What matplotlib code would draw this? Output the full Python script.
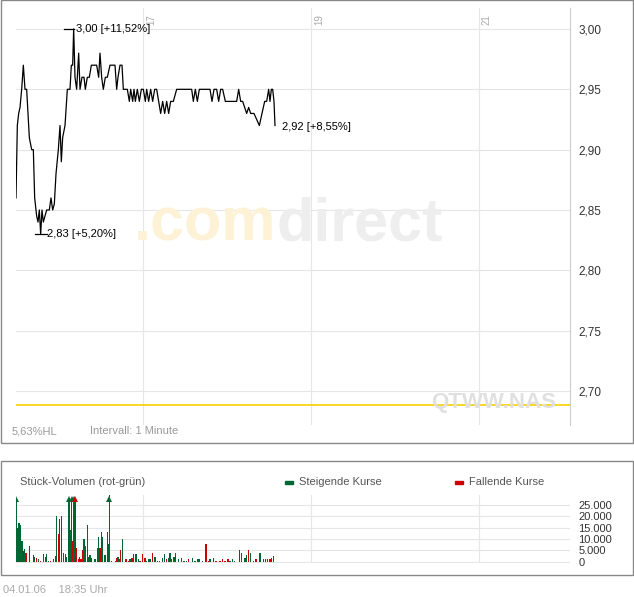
import matplotlib
matplotlib.use("Agg")
import matplotlib.pyplot as plt
from matplotlib.patches import Rectangle

plt.rcParams['font.family'] = ['Liberation Sans', 'DejaVu Sans']

# price series: time (minutes from start), price
price_zx = [48,50,52,56,60,65,70,75,80,88,95,100,104,110,114,118,122,126,130,135,140,148,153,158,163,168,175,180,184,188,195,202,210,214,218,221,225,230,236,240,246,252,256,262,268,274,290,296,300,305,310,316,322,330,345,350,354,360,366,370,382,388,392,398,402,406,412,418,424,430,436,440,446,452,458,464,470,476,482,488,494,500,506,512,520,530,575,580,586,592,598,630,636,642,650,656,662,668,676,710,716,722,728,734,740,746,752,762,770,778,786,794,800,806,810,814,818,822,825]
prices = [2.86,2.89,2.92,2.93,2.935,2.95,2.97,2.95,2.95,2.91,2.90,2.90,2.86,2.845,2.84,2.85,2.83,2.85,2.84,2.845,2.85,2.85,2.86,2.85,2.855,2.88,2.90,2.92,2.89,2.91,2.92,2.95,2.95,2.97,2.97,3.00,2.96,2.95,2.98,2.95,2.96,2.96,2.95,2.96,2.96,2.97,2.97,2.96,2.98,2.96,2.95,2.96,2.96,2.97,2.97,2.95,2.96,2.97,2.97,2.95,2.95,2.94,2.95,2.94,2.95,2.94,2.95,2.94,2.95,2.95,2.94,2.95,2.94,2.95,2.94,2.95,2.95,2.94,2.93,2.94,2.93,2.94,2.93,2.94,2.94,2.95,2.95,2.94,2.95,2.94,2.95,2.95,2.94,2.95,2.95,2.94,2.95,2.95,2.94,2.94,2.95,2.94,2.94,2.935,2.93,2.935,2.93,2.93,2.925,2.92,2.93,2.94,2.94,2.95,2.94,2.95,2.95,2.94,2.92]
price_t = [z/6 - 8 for z in price_zx]

vol_zx = [48,51,57,60,66,70,74,78,88,100,104,110,116,122,130,136,140,146,152,160,166,170,175,179,184,190,196,200,205,207,212,215,218,222,226,230,235,238,243,248,252,256,262,266,270,275,285,292,295,300,304,308,315,322,326,328,335,346,350,354,358,362,368,378,385,390,396,400,408,415,420,428,435,440,446,450,458,465,472,478,488,494,500,505,510,515,522,527,535,545,552,560,566,578,585,592,597,608,618,625,630,640,648,660,668,675,684,690,697,704,718,725,735,740,745,752,760,768,780,790,796,803,810,815,820]
volumes = [28000,15000,17000,16000,9000,4500,5500,4000,7000,3000,2000,1500,1000,500,3500,2000,3500,500,500,1000,2500,20000,12000,19000,20000,4000,3500,2000,20000,28000,14000,28000,9000,28000,28000,6000,1000,2000,1000,5000,10000,7000,16000,2000,3000,1500,1000,6000,11000,6000,13000,11000,3000,13000,8000,30000,500,500,1500,2000,1000,5000,10000,1000,500,1000,1500,3500,3500,1000,500,3500,1500,500,1000,1000,4000,2000,500,500,1500,3500,1000,1500,4000,1000,2000,4000,1000,1500,500,500,1000,1500,500,1000,1000,500,8000,500,1000,1500,500,500,1000,500,1000,500,1000,500,5000,4000,1500,3000,5000,4000,500,1000,4000,1000,1000,1000,1000,1500,2500]
vol_col = list("gggggrgrrrgrgrggggrgggrrrgggrgggrgrrrgrrgggggrgrgrrgggggrrrgrrgrrgrrggrrrgggrggrggrggrgrggggrgggggrrggrrrrrgggrgggrgrrggrgrgr")
vol_col = (vol_col + ["g"] * len(volumes))[:len(volumes)]
vol_t = [z/6 - 8 for z in vol_zx]

day_t = [63.5, 147.5, 231.5]
day_labels = ["17", "19", "21"]
price_ticks = [2.70, 2.75, 2.80, 2.85, 2.90, 2.95, 3.00]
vol_ticks = [0, 5000, 10000, 15000, 20000, 25000]
ref_level = 2.688

W, H = 634, 597
fig = plt.figure(figsize=(W/100, H/100), dpi=100)

def fr(x0, y0, x1, y1):
    return [x0/W, 1 - y1/H, (x1-x0)/W, (y1-y0)/H]

fig.patches.append(Rectangle((0.5/W, 1-443/H), 632/W, 443/H, transform=fig.transFigure, fill=False, ec='#888888', lw=1))
fig.patches.append(Rectangle((0.5/W, 1-575/H), 632/W, 114/H, transform=fig.transFigure, fill=False, ec='#888888', lw=1))

gc = '#e6e6e6'
tc = '#333333'
ax = fig.add_axes(fr(16, 8, 570, 425))
ax.set_xlim(0, 277)
ax.set_ylim(2.6718, 3.0174)
for s in ax.spines.values():
    s.set_visible(False)
ax.spines['right'].set_visible(True); ax.spines['right'].set_color('#cccccc')
ax.yaxis.tick_right()
ax.set_yticks(price_ticks)
ax.set_yticklabels([f"{v:.2f}".replace('.', ',') for v in price_ticks], fontsize=8.5, color=tc)
ax.tick_params(axis='y', length=0, pad=6)
ax.set_xticks([])
for v in price_ticks:
    ax.axhline(v, color=gc, lw=0.8, zorder=0)
for t, l in zip(day_t, day_labels):
    ax.axvline(t, color=gc, lw=0.8, zorder=0)
    ax.text(t + 1.5, 3.012, l, rotation=90, fontsize=7, color='#aaaaaa', ha='left', va='top')
ax.axhline(ref_level, color='#f5d000', lw=1.2)
ax.plot(price_t, prices, color='black', lw=0.9)
ax.text(0.47, 0.48, '.com', transform=ax.transAxes, fontsize=44, color='#fdf2d6', ha='right', va='center', fontweight='bold', zorder=0)
ax.text(0.47, 0.48, 'direct', transform=ax.transAxes, fontsize=44, color='#eeeeee', ha='left', va='center', fontweight='bold', zorder=0)
ax.text(0.975, 0.055, 'QTWW.NAS', transform=ax.transAxes, fontsize=16, color='#e0e0e0', ha='right', va='center', fontweight='bold')
imax = prices.index(max(prices)); imin = prices.index(min(prices))
ax.plot([price_t[imax]-5, price_t[imax]], [prices[imax]]*2, color='black', lw=0.9)
ax.text(price_t[imax] + 1, prices[imax], '3,00 [+11,52%]', fontsize=8, va='center', color='black')
ax.plot([price_t[imin]-3, price_t[imin]+3], [prices[imin]]*2, color='black', lw=0.9)
ax.text(price_t[imin] + 3, prices[imin], '2,83 [+5,20%]', fontsize=8, va='center', color='black')
ax.text(price_t[-1] + 3.5, 2.9185, '2,92 [+8,55%]', fontsize=8, va='center', color='black')
fig.text(12/W, 1-431/H, '5,63%HL', fontsize=8, color='#999999', va='center')
fig.text(90/W, 1-431/H, 'Intervall: 1 Minute', fontsize=8, color='#999999', va='center')

axv = fig.add_axes(fr(16, 495, 570, 563))
axv.set_xlim(0, 277)
axv.set_ylim(-600, 29400)
for s in axv.spines.values():
    s.set_visible(False)
axv.yaxis.tick_right()
axv.set_yticks(vol_ticks)
axv.set_yticklabels(['0', '5.000', '10.000', '15.000', '20.000', '25.000'], fontsize=8, color=tc)
axv.tick_params(axis='y', length=0, pad=6)
axv.set_xticks([])
for v in vol_ticks:
    axv.axhline(v, color=gc, lw=0.8, zorder=0)
for t in day_t:
    axv.axvline(t, color=gc, lw=0.8, zorder=0)
cmap = {'g': '#006633', 'r': '#cc0000'}
axv.bar(vol_t, volumes, width=0.8, color=[cmap[c] for c in vol_col], lw=0)
for t, v, c in zip(vol_t, volumes, vol_col):
    if v > 27000:
        axv.plot(t, 27800, marker='^', ms=4, color=cmap[c], mew=0)
fig.text(20/W, 1-482/H, 'Stück-Volumen (rot-grün)', fontsize=8, color='#555555', va='center')
fig.patches.append(Rectangle((285/W, 1-484/H), 8/W, 3/H, transform=fig.transFigure, color='#006633'))
fig.text(299/W, 1-482/H, 'Steigende Kurse', fontsize=8, color='#555555', va='center')
fig.patches.append(Rectangle((455/W, 1-484/H), 8/W, 3/H, transform=fig.transFigure, color='#cc0000'))
fig.text(469/W, 1-482/H, 'Fallende Kurse', fontsize=8, color='#555555', va='center')
fig.text(3/W, 1-590/H, '04.01.06    18:35 Uhr', fontsize=8, color='#aaaaaa', va='center')

fig.savefig('out.png', dpi=100)
